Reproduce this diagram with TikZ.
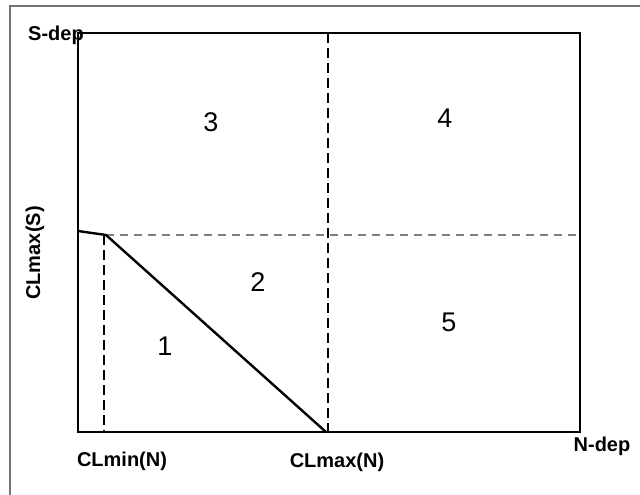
\documentclass[tikz,border=0pt]{standalone}
\usepackage{fontspec}
\setmainfont{Liberation Sans}
\begin{document}
\begin{tikzpicture}[x=1pt,y=-1pt,
  lbl/.style={font=\fontsize{20}{22}\selectfont\bfseries, inner sep=0pt},
  num/.style={font=\fontsize{27}{30}\selectfont, inner sep=0pt},
  frame/.style={draw=black, line width=2pt},
  vdash/.style={draw=black, line width=1.1pt, dash pattern=on 10pt off 5pt},
  hdash/.style={draw=gray, line width=1.3pt, dash pattern=on 8pt off 6pt},
  curve/.style={draw=black, line width=2.4pt, line join=round}]
\useasboundingbox (0,0) rectangle (640,495);
% outer frame
\draw[gray!90!black, line width=1.6pt] (10,495) -- (10,6) -- (640,6);
% coordinates
\coordinate (tl) at (78,33);
\coordinate (br) at (580,432);
\coordinate (vt) at (328,33);
\coordinate (vb) at (328,432);
\coordinate (hl) at (106,235);
\coordinate (hr) at (580,235);
\coordinate (mt) at (104,235);
\coordinate (mb) at (104,432);
\coordinate (p0) at (78,231);
\coordinate (p1) at (106,235);
\coordinate (p2) at (326,432);
% dashed lines
\draw[vdash] (vt) -- (vb);
\draw[hdash] (hl) -- (hr);
\draw[vdash] (mt) -- (mb);
% main box
\draw[frame] (tl) rectangle (br);
% curve
\draw[curve] (p0) -- (p1) -- (p2);
% labels
\node[lbl] (sdep) at (56,35) {S-dep};
\node[lbl, rotate=90] (clmaxs) at (35,253) {CLmax(S)};
\node[lbl] (clminn) at (122,461) {CLmin(N)};
\node[lbl] (clmaxn) at (337,462) {CLmax(N)};
\node[lbl] (ndep) at (602,446) {N-dep};
% region numbers
\node[num] (r1) at (165,346) {1};
\node[num] (r2) at (258,282) {2};
\node[num] (r3) at (211,122) {3};
\node[num] (r4) at (445,118) {4};
\node[num] (r5) at (449,322) {5};
\end{tikzpicture}
\end{document}
